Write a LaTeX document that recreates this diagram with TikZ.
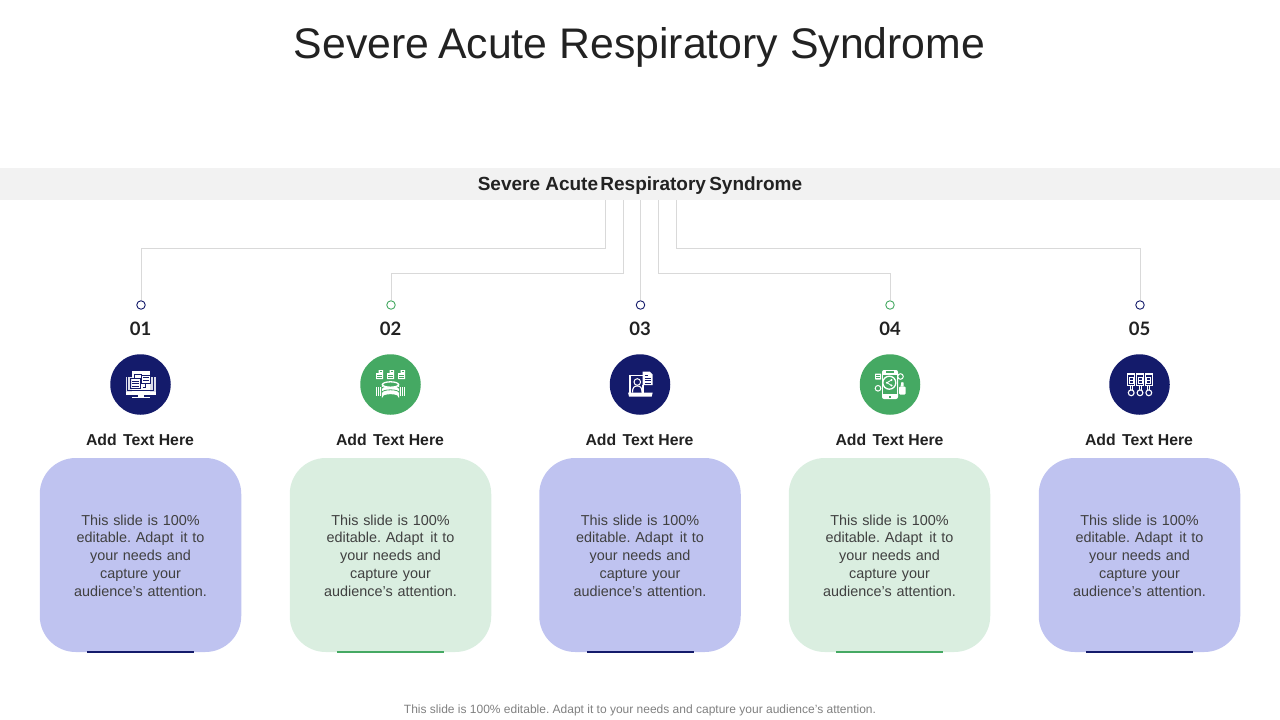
\documentclass[tikz,border=0pt]{standalone}
\usepackage{fontspec}
\setmainfont{Liberation Sans}
\newfontfamily\numfont{Lato}
\frenchspacing
\definecolor{navy}{HTML}{141B6B}
\definecolor{grn}{HTML}{45A963}
\definecolor{lnavy}{HTML}{BFC3F0}
\definecolor{lgrn}{HTML}{DAEEE0}
\definecolor{band}{HTML}{F2F2F2}
\definecolor{ink}{HTML}{222222}
\definecolor{body}{HTML}{404040}
\definecolor{wire}{HTML}{D9D9D9}
\tikzset{
  x=1pt,y=-1pt,
  titletxt/.style={font=\fontsize{42.8}{50}\selectfont,text=ink,inner sep=0pt},
  bandtxt/.style={font=\fontsize{19}{22}\selectfont\bfseries,text=ink,inner sep=0pt},
  numtxt/.style={font=\fontsize{18.5}{24}\selectfont\numfont\bfseries,text=ink,inner sep=0pt},
  headtxt/.style={font=\fontsize{15.8}{20}\selectfont\bfseries,text=ink,inner sep=0pt},
  bodytxt/.style={font=\fontsize{14.4}{17.7}\selectfont,text=body,align=center,text width=170pt,inner sep=0pt},
  foottxt/.style={font=\fontsize{12}{14}\selectfont,text=gray,inner sep=0pt},
  cardbox/.style={draw=none,rounded corners=36pt,minimum width=201.5pt,minimum height=194pt,inner sep=0pt},
  iconball/.style={circle,minimum size=60.5pt,inner sep=0pt,draw=none},
  dotmark/.style={circle,minimum size=8.5pt,inner sep=0pt,fill=white,line width=.9pt},
  wireline/.style={draw=wire,line width=1pt},
  ic/.style={draw=white,line width=.8pt},
}
\newcommand{\iconmonitor}[1]{\begin{scope}[shift={#1}]
  \fill[white!85!navy] (-15,-8) rectangle (15,7);
  \fill[white] (-15,7) rectangle (15,10);
  \fill[white] (-9,-14) rectangle (9,7);
  \fill[white] (-3,10) rectangle (3,12);\fill[white] (-9,12) rectangle (9,13.5);
  \draw[navy,line width=.8pt] (-13,-8) -- (-13,5.5) -- (13,5.5) -- (13,-8);
  \draw[navy,line width=.8pt] (-10,-6.5) rectangle (-.5,3.5);
  \draw[navy,line width=.8pt] (1,-9.5) rectangle (9.5,-1.5);
  \draw[navy,line width=.7pt] (-6,-6.5) -- (-6,-10) -- (1,-10) (2,3) -- (5,3) -- (5,-1.5);
  \draw[navy,line width=.6pt] (-8.5,-3.5) -- (-2,-3.5) (-8.5,-1) -- (-2,-1) (-8.5,1.5) -- (-2,1.5) (2.5,-7) -- (8,-7) (2.5,-4.5) -- (8,-4.5);
\end{scope}}
\newcommand{\icondb}[1]{\begin{scope}[shift={#1}]
  \foreach \dx in {-11,0,11}{
    \fill[white] (\dx-3.5,-5.5) -- (\dx-3.5,-11.5) -- (\dx-1,-11.5) -- (\dx-1,-14.5) -- (\dx+3.5,-14.5) -- (\dx+3.5,-5.5) -- cycle;
    \draw[grn,line width=.6pt] (\dx-2.3,-9.5) -- (\dx+2.3,-9.5) (\dx-2.3,-7.5) -- (\dx+2.3,-7.5) (\dx,-13) -- (\dx+2.3,-13);
  }
  \fill[white] (-14.5,2) rectangle (-9.5,11.5);\fill[white] (9.5,2) rectangle (14.5,11.5);
  \draw[grn,line width=.6pt] (-13,2) -- (-13,11.5) (-11,2) -- (-11,11.5) (13,2) -- (13,11.5) (11,2) -- (11,11.5);
  \draw[ic,line width=1.3pt,fill=white] (-8,0) -- (-8,11.5) arc[start angle=180,end angle=360,x radius=8,y radius=2.5] -- (8,0) -- cycle;
  \draw[grn,line width=.8pt] (-8.6,4) arc[start angle=180,end angle=360,x radius=8.6,y radius=2.7];
  \draw[grn,line width=.8pt] (-8.6,8) arc[start angle=180,end angle=360,x radius=8.6,y radius=2.7];
  \draw[ic,line width=1.3pt,fill=grn] (0,0) ellipse[x radius=8,y radius=2.7];
\end{scope}}
\newcommand{\iconlaptop}[1]{\begin{scope}[shift={#1}]
  \draw[ic,line width=1.3pt] (-10,8) -- (-10,-9) -- (3,-9) (3,0) -- (3,8);
  \fill[white] (-12,8) -- (12.7,8) -- (11.7,12) -- (-11,12) -- cycle;
  \draw[ic,line width=1pt] (-2.7,-2.5) circle[radius=3.3];
  \draw[ic,line width=1.1pt] (-7.5,8) .. controls (-7.5,3) and (-6,1.5) .. (-2.7,1.5) .. controls (.5,1.5) and (2,3) .. (2,8);
  \fill[white] (2.7,-13) -- (9.5,-13) -- (12.7,-10) -- (12.7,.5) -- (2.7,.5) -- cycle;
  \draw[navy,line width=.8pt] (4.5,-6.5) -- (11,-6.5) (4.5,-4) -- (11,-4) (4.5,-1.5) -- (11,-1.5) (4.5,-9.5) -- (8,-9.5);
\end{scope}}
\newcommand{\iconphone}[1]{\begin{scope}[shift={#1}]
  \fill[white,rounded corners=2pt] (-8,-14.5) -- (8,-14.5) -- (8,14.5) -- (-8,14.5) -- cycle;
  \fill[grn] (-4,-13.5) rectangle (4,-11.5);
  \fill[grn] (-6.8,-10) -- (6.8,-10) -- (6.8,9) -- (-6.8,9) -- cycle;
  \fill[grn] (-1.3,11) rectangle (1.3,13);
  \draw[ic,line width=1.3pt] (-.7,-1.8) circle[radius=6.5];
  \draw[ic] (1.5,-4.5) -- (-3,-1.8) -- (1.5,1);
  \fill[white] (1.5,-4.5) circle[radius=1.1] (1.5,1) circle[radius=1.1] (-3,-1.8) circle[radius=1.1];
  \fill[white,rounded corners=.5pt] (-15,-11) rectangle (-9,-5);
  \draw[grn,line width=.5pt] (-14,-9) -- (-10,-9) (-14,-7) -- (-10,-7);
  \draw[ic,line width=1pt] (10.5,-8) circle[radius=2.8];
  \draw[ic,line width=1pt] (-12,3.8) circle[radius=2.8];
  \fill[white,rounded corners=1pt] (9,2) rectangle (15.5,10);
  \fill[white] (10.5,2) -- (11.5,-2.5) -- (13.5,-2) -- (13.5,2) -- cycle;
\end{scope}}
\newcommand{\iconfiles}[1]{\begin{scope}[shift={#1}]
  \foreach \dx in {-8.3,.5,9.3}{
    \begin{scope}[shift={(\dx,0)}]
    \draw[ic,line width=1pt] (-3.6,-11.5) rectangle (3.6,1);
    \fill[white] (-3.6,-11.5) rectangle (3.6,-9.5);
    \draw[ic,line width=.7pt] (-2,-7.5) rectangle (2,-1.5);
    \draw[ic,line width=.6pt] (-2,-4.5) -- (2,-4.5);
    \draw[ic,line width=.8pt] (-1,1) -- (-1,5.5) (1,1) -- (1,5.5);
    \draw[ic,line width=1.1pt] (0,8.3) circle[radius=2.9];
    \end{scope}
  }
\end{scope}}
\begin{document}
\begin{tikzpicture}
\useasboundingbox (0,0) rectangle (1280,720);
\node[titletxt] (title) at (639.5,47.5) {Severe\hspace{-3pt} Acute Respiratory Syndrome};
\fill[band] (0,168) rectangle (1280,200);
\node[draw=none,inner sep=0pt,minimum width=1280pt,minimum height=32pt] (bandrow) at (640,184) {};
\node[bandtxt] (bandlabel) at (640,185.5) {Severe Acute\hspace{-3pt} Respiratory\hspace{-2pt} Syndrome};
\coordinate (o1) at (605,200);
\coordinate (o2) at (623,200);
\coordinate (o3) at (640.5,200);
\coordinate (o4) at (658.5,200);
\coordinate (o5) at (676.5,200);
\foreach \i/\cx/\dcol/\lcol/\dx/\boxx/\icon in {
  1/140.5/navy/lnavy/141/140.5/\iconmonitor,
  2/390.5/grn/lgrn/391/390.5/\icondb,
  3/640/navy/lnavy/640.5/640/\iconlaptop,
  4/890/grn/lgrn/890/889.5/\iconphone,
  5/1139.5/navy/lnavy/1140/1139.5/\iconfiles}{
  \node[dotmark,draw=\dcol] (dot\i) at (\dx,305) {};
  \node[numtxt] (num\i) at (\cx,328.5) {0\i};
  \node[iconball,fill=\dcol] (ball\i) at (\cx,384.5) {};
  \icon{(ball\i.center)}
  \node[headtxt] (head\i) at (\cx-.5,440) {Add\hspace{2pt} Text Here};
  \node[cardbox,fill=\lcol] (card\i) at (\boxx,555) {};
  \node[bodytxt] (text\i) at (\boxx,555.5) {This slide is 100\%\\editable. Adapt\hspace{2pt} it to\\your needs and\\capture your\\audience's attention.};
  \fill[\dcol] (\boxx-53.5,650.8) rectangle (\boxx+53.5,652.8);
}
\draw[wireline] (o1) -- ++(0,48) -| (dot1.north);
\draw[wireline] (o2) -- ++(0,73) -| (dot2.north);
\draw[wireline] (o3) -- (dot3.north);
\draw[wireline] (o4) -- ++(0,73) -| (dot4.north);
\draw[wireline] (o5) -- ++(0,48) -| (dot5.north);
\node[foottxt] (foot) at (640,710) {This slide is 100\% editable. Adapt it to your needs and capture your audience's attention.};
\end{tikzpicture}
\end{document}
